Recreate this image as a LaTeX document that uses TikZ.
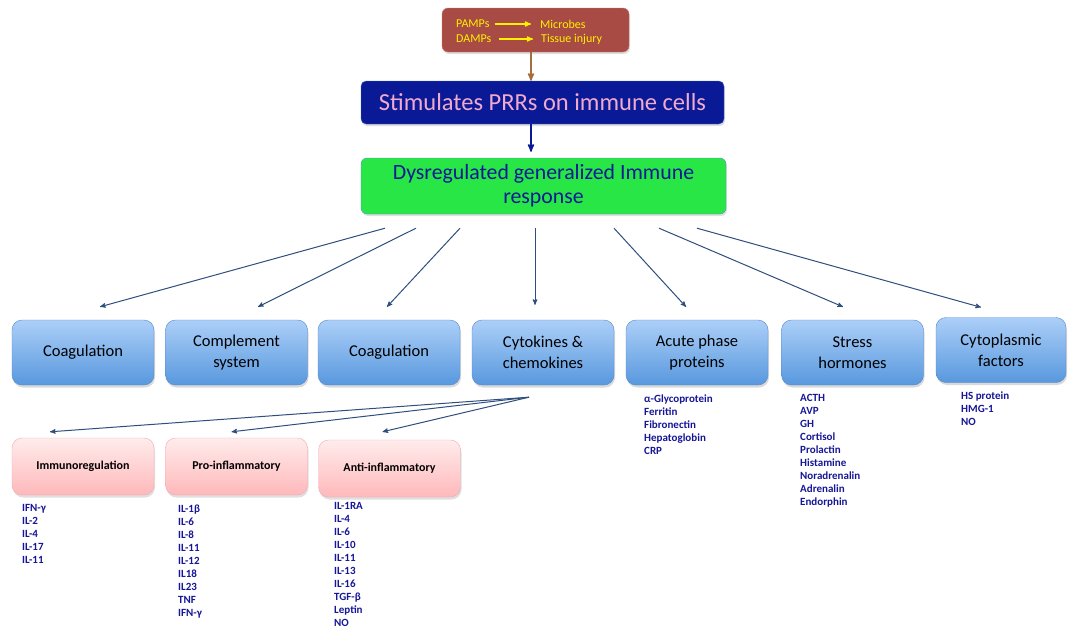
\documentclass[tikz,border=0pt]{standalone}
\usepackage{fontspec}
\setmainfont{Carlito}
\usetikzlibrary{arrows,shadows,positioning}

\definecolor{causered}{RGB}{168,75,69}
\definecolor{causeline}{RGB}{200,120,115}
\definecolor{signyellow}{RGB}{255,240,0}
\definecolor{navybox}{RGB}{10,26,150}
\definecolor{navyline}{RGB}{80,110,200}
\definecolor{pinktext}{RGB}{240,170,205}
\definecolor{greenbox}{RGB}{40,230,70}
\definecolor{greenline}{RGB}{90,150,200}
\definecolor{arrowblue}{RGB}{46,78,126}
\definecolor{brownarrow}{RGB}{165,110,60}
\definecolor{bluetop}{RGB}{172,207,248}
\definecolor{bluebot}{RGB}{88,152,222}
\definecolor{blueline}{RGB}{85,135,205}
\definecolor{pinktop}{RGB}{255,236,236}
\definecolor{pinkbot}{RGB}{255,184,186}
\definecolor{pinkline}{RGB}{242,168,180}
\definecolor{itemblue}{RGB}{22,22,150}

\begin{document}
\begin{tikzpicture}
    [
      x=1pt, y=-1pt,
      cause/.style={rounded corners=6pt,fill=causered,draw=causeline,minimum width=187pt,minimum height=44pt,
        drop shadow={opacity=0.25,shadow xshift=1pt,shadow yshift=-2pt}},
      sign/.style={inner sep=0pt,anchor=west,text=signyellow,font=\fontsize{12}{14}\selectfont},
      stimbox/.style={rounded corners=5pt,fill=navybox,draw=navyline,text=pinktext,minimum width=363pt,minimum height=43pt,
        font=\fontsize{24.5}{28}\selectfont,drop shadow={opacity=0.25,shadow xshift=1pt,shadow yshift=-2pt}},
      respbox/.style={rounded corners=6pt,fill=greenbox,draw=greenline,text=navybox,minimum width=365pt,minimum height=56pt,
        align=center,font=\fontsize{21.8}{24}\selectfont,drop shadow={opacity=0.25,shadow xshift=1pt,shadow yshift=-2pt}},
      group/.style={rounded corners=10pt,top color=bluetop,bottom color=bluebot,draw=blueline,minimum width=142pt,
        minimum height=65pt,align=center,font=\fontsize{16.5}{21}\selectfont,
        drop shadow={opacity=0.3,shadow xshift=1pt,shadow yshift=-2.5pt}},
      subgroup/.style={rounded corners=10pt,top color=pinktop,bottom color=pinkbot,draw=pinkline,minimum width=142pt,
        minimum height=57pt,font=\bfseries\fontsize{12}{14}\selectfont,
        drop shadow={opacity=0.25,shadow xshift=1pt,shadow yshift=-2.5pt}},
      items/.style={inner sep=0pt,anchor=north west,align=left,text=itemblue,font=\bfseries\fontsize{11}{13}\selectfont},
      post/.style={->,>=stealth',line width=1pt,draw=arrowblue},
      signpost/.style={->,>=stealth',line width=1.2pt,draw=signyellow}
    ]
    \useasboundingbox (0,0) rectangle (1068,629);

    % top of the cascade
    \node (cause) [cause] at (535.5,30) {};
    \node (pamps) [sign] at (456,24) {PAMPs};
    \node (microbes) [sign] at (540,24) {Microbes};
    \node (damps) [sign] at (456,39) {DAMPs};
    \node (injury) [sign] at (541,39) {Tissue injury};
    \node (stim) [stimbox] at (542.5,102.5) {Stimulates PRRs on immune cells};
    \node (resp) [respbox] at (543.5,186) {Dysregulated generalized Immune\\response};

    % effector groups
    \node (coag1) [group] at (83,352.5) {Coagulation};
    \node (compl) [group] at (236.5,352.5) {Complement\\system};
    \node (coag2) [group] at (389,352.5) {Coagulation};
    \node (cyto) [group] at (543,352.5) {Cytokines \&\\chemokines};
    \node (acute) [group] at (697,352.5) {Acute phase\\proteins};
    \node (stress) [group] at (852.5,352.5) {Stress\\hormones};
    \node (cytofac) [group, minimum width=130pt] at (1001,350) {Cytoplasmic\\factors};

    % cytokine classes
    \node (immreg) [subgroup] at (83,466.5) {Immunoregulation};
    \node (proinf) [subgroup] at (236.5,466.5) {Pro-inflammatory};
    \node (antiinf) [subgroup] at (389.5,468.5) {Anti-inflammatory};

    % lists
    \node (immlist) [items] at (22,504.5) {IFN-γ\\IL-2\\IL-4\\IL-17\\IL-11};
    \node (prolist) [items] at (178,504.5) {IL-1β\\IL-6\\IL-8\\IL-11\\IL-12\\IL18\\IL23\\TNF\\IFN-γ};
    \node (antilist) [items] at (334,502.5) {IL-1RA\\IL-4\\IL-6\\IL-10\\IL-11\\IL-13\\IL-16\\TGF-β\\Leptin\\NO};
    \node (acutelist) [items] at (644,394.5) {α-Glycoprotein\\Ferritin\\Fibronectin\\Hepatoglobin\\CRP};
    \node (stresslist) [items] at (800,394.5) {ACTH\\AVP\\GH\\Cortisol\\Prolactin\\Histamine\\Noradrenalin\\Adrenalin\\Endorphin};
    \node (faclist) [items] at (961,391.5) {HS protein\\HMG-1\\NO};

    \path
    (pamps) edge [signpost, shorten <=5pt, shorten >=9pt] (microbes)
    (damps) edge [signpost, shorten <=7pt, shorten >=8pt] (injury)
    ([xshift=-4.5pt]cause.south) edge [->,>=stealth',line width=1.6pt,draw=brownarrow] ([xshift=-11.5pt]stim.north)
    ([xshift=-11.5pt]stim.south) edge [->,>=stealth',line width=1.6pt,draw=navybox] ([xshift=-12.5pt,yshift=6pt]resp.north)
    ([xshift=-158.5pt,yshift=-14pt]resp.south) edge [post] ([xshift=17pt,yshift=13pt]coag1.north)
    ([xshift=-127.5pt,yshift=-14pt]resp.south) edge [post] ([xshift=21.5pt,yshift=13pt]compl.north)
    ([xshift=-83.5pt,yshift=-14pt]resp.south)  edge [post] ([xshift=-2pt,yshift=13pt]coag2.north)
    ([xshift=-8.5pt,yshift=-14pt]resp.south)   edge [post] ([xshift=-8pt,yshift=15pt]cyto.north)
    ([xshift=70.5pt,yshift=-14pt]resp.south)   edge [post] ([xshift=-11pt,yshift=13pt]acute.north)
    ([xshift=115.5pt,yshift=-14pt]resp.south)  edge [post] ([xshift=-9.5pt,yshift=13pt]stress.north)
    ([xshift=153.5pt,yshift=-14pt]resp.south)  edge [post] ([xshift=-20pt,yshift=10pt]cytofac.north)
    ([xshift=-14pt,yshift=-12pt]cyto.south) edge [post] ([xshift=-33pt,yshift=6pt]immreg.north)
    ([xshift=-14pt,yshift=-12pt]cyto.south) edge [post] ([xshift=-5pt,yshift=6pt]proinf.north)
    ([xshift=-14pt,yshift=-12pt]cyto.south) edge [post] ([xshift=-7pt,yshift=8pt]antiinf.north)
    ;

\end{tikzpicture}
\end{document}
